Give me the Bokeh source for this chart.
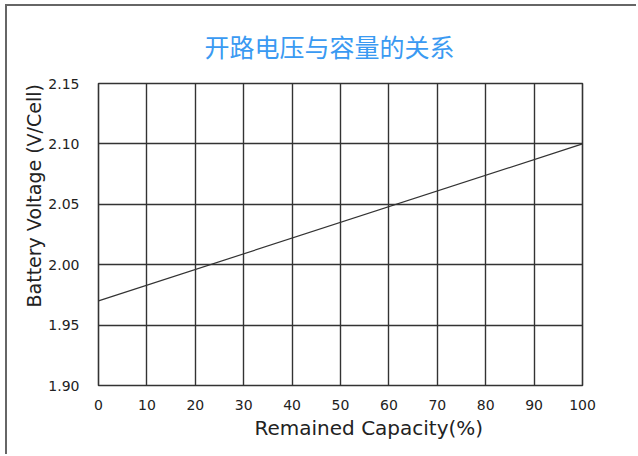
from bokeh.plotting import figure
from bokeh.models import Title, FixedTicker, Range1d, CustomJSTickFormatter
from bokeh.embed import file_html
from bokeh.resources import INLINE

# Data
capacity = [0, 100]
voltage = [1.97, 2.10]
x_ticks = [0, 10, 20, 30, 40, 50, 60, 70, 80, 90, 100]
y_ticks = [1.90, 1.95, 2.00, 2.05, 2.10, 2.15]
title_text = "开路电压与容量的关系"
x_title = "Remained Capacity(%)"
y_title = "Battery Voltage (V/Cell)"

FONT = "DejaVu Sans"
DARK = "#333333"
TXT = "#222222"
W, H = 631, 450

p = figure(width=W, height=H, output_backend="svg", toolbar_location=None,
           x_range=Range1d(0, 100), y_range=Range1d(1.90, 2.15),
           min_border_left=91, min_border_right=56, min_border_top=77, min_border_bottom=71)
p.styles = {"border-left": "2px solid #666", "border-top": "2px solid #666",
            "margin-left": "5px", "margin-top": "4px"}

p.title.text = title_text
p.title.text_font = "Noto Sans CJK SC"
p.title.text_font_size = "25px"
p.title.text_font_style = "normal"
p.title.text_color = "#3a9af2"
p.title.align = "left"
p.title.vertical_align = "middle"
p.title.offset = 106
p.title.standoff = 37

p.line(capacity, voltage, line_color="#333333", line_width=1.2)

p.xaxis.ticker = FixedTicker(ticks=x_ticks)
p.yaxis.ticker = FixedTicker(ticks=y_ticks)
p.yaxis.formatter = CustomJSTickFormatter(code="return tick.toFixed(2);")
for ax in (p.xaxis, p.yaxis):
    ax.major_tick_line_color = None
    ax.minor_tick_line_color = None
    ax.axis_line_color = None
    ax.major_label_text_font = FONT
    ax.major_label_text_font_size = "14px"
    ax.major_label_text_color = TXT
p.xaxis.major_label_standoff = 8
p.yaxis.major_label_standoff = 13

p.xgrid.grid_line_color = DARK
p.ygrid.grid_line_color = DARK
p.xgrid.grid_line_width = 1.4
p.ygrid.grid_line_width = 1.4
p.outline_line_color = DARK
p.outline_line_width = 1.6
p.outline_line_alpha = 1.0

p.add_layout(Title(text=x_title, align="left", offset=156, standoff=2,
                   text_font=FONT, text_font_size="20px", text_font_style="normal",
                   text_color=TXT), "below")
p.add_layout(Title(text=y_title, align="left", offset=78, standoff=2,
                   text_font=FONT, text_font_size="19px", text_font_style="normal",
                   text_color=TXT), "left")

open("out.html", "w").write(file_html(p, INLINE))
